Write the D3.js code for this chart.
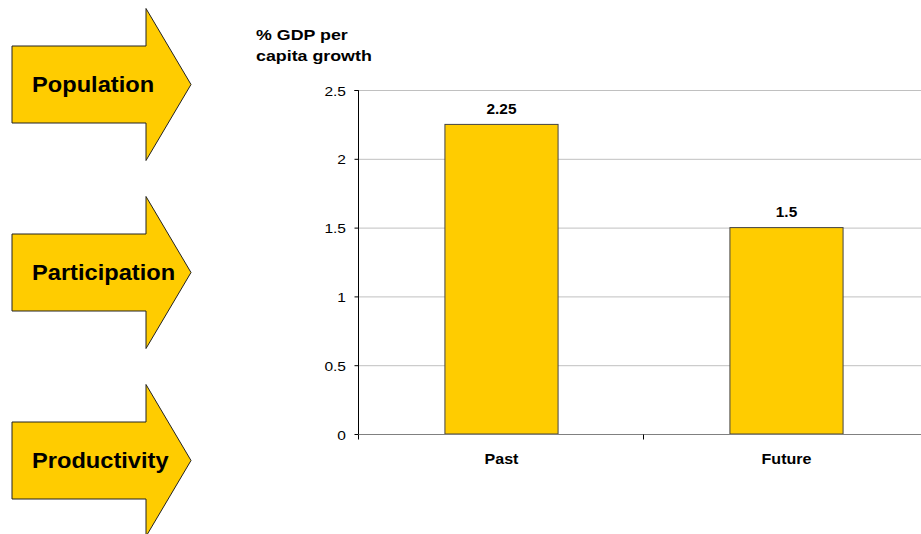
<!DOCTYPE html>
<html><head><meta charset="utf-8">
<script src="https://cdn.jsdelivr.net/npm/d3@7"></script>
<style>body{margin:0;background:#fff}svg{display:block}text{font-family:Arial,"Liberation Sans",sans-serif}</style>
</head><body><svg id="c" width="921" height="534"></svg>
<script>
const categories = ["Past", "Future"];
const values = [2.25, 1.5];
const valueLabels = ["2.25", "1.5"];
const yTicks = [0, 0.5, 1, 1.5, 2, 2.5];
const yTickLabels = ["0", "0.5", "1", "1.5", "2", "2.5"];
const arrowLabels = ["Population", "Participation", "Productivity"];
const titleLines = ["% GDP per", "capita growth"];

const svg = d3.select("#c");
const yellow = "#FFCC00";

// helper for horizontally stretched text
function stext(g, x, y, sx, txt, opts) {
  const t = g.append("text")
    .attr("transform", `translate(${x},${y}) scale(${sx},1)`)
    .attr("font-size", opts.size)
    .attr("font-weight", opts.bold ? "bold" : "normal")
    .attr("text-anchor", opts.anchor || "start")
    .attr("fill", "#000")
    .text(txt);
  return t;
}

// arrows
const arrowY = d3.scalePoint().domain(arrowLabels).range([84.5, 460.5]);
const ag = svg.append("g");
arrowLabels.forEach(l => {
  const cy = arrowY(l);
  const pts = [[12, cy-38.5],[146, cy-38.5],[146, cy-76],[191, cy],[146, cy+76],[146, cy+38.5],[12, cy+38.5]];
  ag.append("path").attr("d", d3.line()(pts) + "Z")
    .attr("fill", yellow).attr("stroke", "#222").attr("stroke-width", 1);
  stext(ag, 32, cy + 7, 1.075, l, {size: 22, bold: true});
});

// chart
const x = d3.scaleBand().domain(categories).range([358, 928]).paddingInner(0).paddingOuter(0);
const y = d3.scaleLinear().domain([0, 2.5]).range([434, 90]);

// gridlines
svg.append("g").selectAll("line").data(yTicks.filter(d => d > 0)).join("line")
  .attr("x1", 358).attr("x2", 921).attr("y1", d => y(d) + 0.5).attr("y2", d => y(d) + 0.5)
  .attr("stroke", "#c0c0c0").attr("stroke-width", 1);

// bars
const bw = x.bandwidth() * 0.397;
svg.append("g").selectAll("rect").data(values).join("rect")
  .attr("x", (d, i) => x(categories[i]) + (x.bandwidth() - bw) / 2 + 1)
  .attr("y", d => y(d)).attr("width", bw).attr("height", d => y(0) - y(d))
  .attr("fill", yellow).attr("stroke", "#444").attr("stroke-width", 1);

// value labels
const vg = svg.append("g");
values.forEach((d, i) => {
  stext(vg, x(categories[i]) + x.bandwidth() / 2 + 1, y(d) - 10.5, 1.1, valueLabels[i], {size: 14, bold: true, anchor: "middle"});
});

// y axis
const yAxis = d3.axisLeft(y).tickValues(yTicks).tickFormat((d, i) => yTickLabels[i]).tickSize(4).tickPadding(8);
const yg = svg.append("g").attr("transform", "translate(358.5,0)").call(yAxis);
yg.select(".domain").attr("stroke", "#000").attr("d", `M-4,${y(2.5)+0.5}H0V${y(0)}`);
yg.selectAll(".tick line").attr("stroke", "#000");
yg.selectAll(".tick text")
  .attr("x", 0).attr("dy", null)
  .attr("transform", "translate(-12.5,5) scale(1.15,1)")
  .attr("font-size", 13.5).attr("fill", "#000")
  .attr("font-family", "Arial, 'Liberation Sans', sans-serif");

// x axis
const xg = svg.append("g").attr("transform", `translate(0,${y(0) + 0.5})`);
xg.append("line").attr("x1", 358).attr("x2", 921).attr("stroke", "#808080").attr("stroke-width", 1.2);
xg.selectAll("line.t").data([358, 643]).join("line").attr("class", "t")
  .attr("x1", d => d + 0.5).attr("x2", d => d + 0.5).attr("y1", 0).attr("y2", 5).attr("stroke", "#000");
const cg = svg.append("g");
categories.forEach(c => {
  stext(cg, x(c) + x.bandwidth() / 2 + 1, 463.5, 1.07, c, {size: 15, bold: true, anchor: "middle"});
});

// title
const tg = svg.append("g");
titleLines.forEach((t, i) => {
  stext(tg, 256, 40 + i * 21, 1.15, t, {size: 15.5, bold: true});
});
</script></body></html>
